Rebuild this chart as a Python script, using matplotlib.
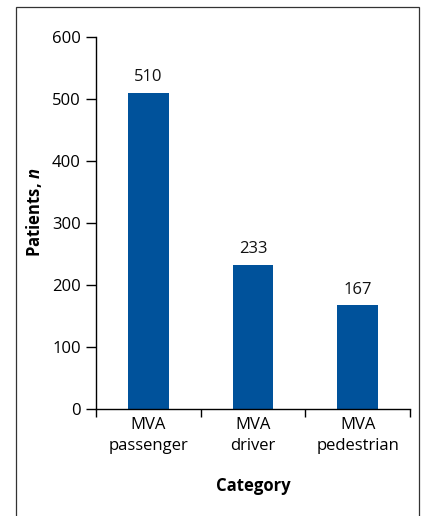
import matplotlib
matplotlib.use("Agg")
import matplotlib.pyplot as plt
from matplotlib.patches import Rectangle

# data
categories = ["MVA\npassenger", "MVA\ndriver", "MVA\npedestrian"]
patients = [510, 233, 167]
y_ticks = [0, 100, 200, 300, 400, 500, 600]

bar_color = "#00529B"

plt.rcParams["font.family"] = ["Open Sans", "DejaVu Sans"]
plt.rcParams["mathtext.fontset"] = "custom"
plt.rcParams["mathtext.bfit"] = "Open Sans:italic:bold"
plt.rcParams["mathtext.rm"] = "Open Sans"

fs = 12

fig = plt.figure(figsize=(4.21, 5.16), dpi=100)
ax = fig.add_axes([96 / 421, 1 - 409 / 516, 314 / 421, 372 / 516])

# frame round the figure (runs off the bottom)
fig.patches.append(Rectangle((16 / 421, -0.05), (419 - 16) / 421, 1.05 - 7 / 516,
                             transform=fig.transFigure, fill=False,
                             edgecolor="#333333", linewidth=0.9))

xs = list(range(len(categories)))
bars = ax.bar(xs, patients, width=0.39, color=bar_color)
for x, v in zip(xs, patients):
    ax.text(x, v + 12, str(v), ha="center", va="bottom", fontsize=fs, color="#111111")

ax.set_xlim(-0.5, 2.5)
ax.set_ylim(0, 600)
ax.set_yticks(y_ticks)
ax.tick_params(axis="y", direction="out", length=7, width=1, labelsize=fs, pad=4)

# ticks between categories, labels at the centres
ax.set_xticks([-0.5, 0.5, 1.5, 2.5])
ax.set_xticklabels([])
ax.set_xticks(xs, minor=True)
ax.set_xticklabels(categories, minor=True, fontsize=fs, linespacing=1.35)
ax.tick_params(axis="x", which="major", direction="out", length=6, width=1)
ax.tick_params(axis="x", which="minor", length=0, pad=6)

for side in ["top", "right"]:
    ax.spines[side].set_visible(False)
ax.spines["left"].set_linewidth(1)
ax.spines["bottom"].set_linewidth(1)

ax.set_xlabel("Category", fontsize=fs, fontweight="bold", labelpad=17)
ax.set_ylabel("Patients, $\\mathbfit{n}$", fontsize=fs, fontweight="bold")
ax.yaxis.set_label_coords(-0.167, 0.53)

fig.savefig("out.png", dpi=100)
